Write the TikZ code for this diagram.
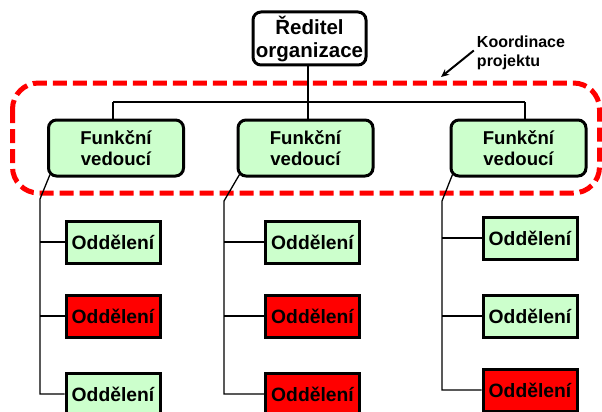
\documentclass[tikz,border=0pt]{standalone}
\usepackage{fontspec}
\setmainfont{Liberation Sans}
\usetikzlibrary{arrows.meta,calc}
\definecolor{paleGreen}{HTML}{CCFFCC}
\definecolor{alarmRed}{HTML}{FF0000}
\begin{document}
\begin{tikzpicture}[x=1pt,y=-1pt,
  wire/.style={line width=1.3pt},
  chief/.style={draw, line width=3pt, rounded corners=8pt, fill=white,
    minimum width=113pt, minimum height=53pt, inner sep=0pt, align=center,
    font=\bfseries\fontsize{20.5}{23}\selectfont},
  lead/.style={draw, line width=3pt, rounded corners=8pt, fill=paleGreen,
    minimum width=135pt, minimum height=56pt, inner sep=0pt, align=center,
    font=\bfseries\fontsize{18.6}{21.5}\selectfont},
  dept/.style={draw, line width=3pt, minimum width=94pt, minimum height=42pt,
    inner sep=0pt, font=\bfseries\fontsize{19.3}{22}\selectfont},
  deptok/.style={dept, fill=paleGreen},
  deptbad/.style={dept, fill=alarmRed},
  coord/.style={draw=alarmRed, line width=5pt, dash pattern=on 14pt off 6pt,
    rounded corners=26pt}]
\useasboundingbox (0,0) rectangle (602,412);

% project coordination frame
\draw[coord] (12.5,83) rectangle (599.5,193);

% director
\node[chief] (dir) at (309.5,38.5) {Ředitel\\organizace};

% functional managers
\node[lead] (f1) at (116,148) {Funkční\\vedoucí};
\node[lead] (f2) at (305.5,148) {Funkční\\vedoucí};
\node[lead] (f3) at (518.5,148) {Funkční\\vedoucí};

% bus from director to managers
\coordinate (busL) at (113,102);
\coordinate (busM) at (308,102);
\coordinate (busR) at (525,102);
\draw[wire] (busL) -- (busR);
\draw[wire] (dir.south -| busM) -- (busM);
\draw[wire] (busL) -- (busL |- f1.north);
\draw[wire] (busM) -- (busM |- f2.north);
\draw[wire] (busR) -- (busR |- f3.north);

% departments
\node[deptok]  (d11) at (113,242) {Oddělení};
\node[deptbad] (d12) at (113,316) {Oddělení};
\node[deptok]  (d13) at (113,394) {Oddělení};

\node[deptok]  (d21) at (312.5,242) {Oddělení};
\node[deptbad] (d22) at (312.5,316) {Oddělení};
\node[deptbad] (d23) at (312.5,394) {Oddělení};

\node[deptok]  (d31) at (530,238) {Oddělení};
\node[deptok]  (d32) at (530,316) {Oddělení};
\node[deptbad] (d33) at (530,390) {Oddělení};

% department trunks
\coordinate (t1) at (40,199);
\coordinate (t2) at (224,201);
\coordinate (t3) at (442,201);
\draw[wire] ($(f1.south west)+(3,-3)$) -- (t1) |- (d13.west);
\draw[wire] (t1 |- d11.west) -- (d11.west);
\draw[wire] (t1 |- d12.west) -- (d12.west);
\draw[wire] ($(f2.south west)+(3,-3)$) -- (t2) |- (d23.west);
\draw[wire] (t2 |- d21.west) -- (d21.west);
\draw[wire] (t2 |- d22.west) -- (d22.west);
\draw[wire] ($(f3.south west)+(3,-3)$) -- (t3) |- (d33.west);
\draw[wire] (t3 |- d31.west) -- (d31.west);
\draw[wire] (t3 |- d32.west) -- (d32.west);

% annotation
\node[align=left, inner sep=2pt, font=\bfseries\fontsize{16}{19}\selectfont]
  (koord) at (521,52.5) {Koordinace\\projektu};
\coordinate (frameHit) at (441,77);
\draw[line width=2pt, -{Stealth[length=8pt,width=7pt]}]
  ($(koord.west)+(-1,-2)$) -- (frameHit);
\end{tikzpicture}
\end{document}
